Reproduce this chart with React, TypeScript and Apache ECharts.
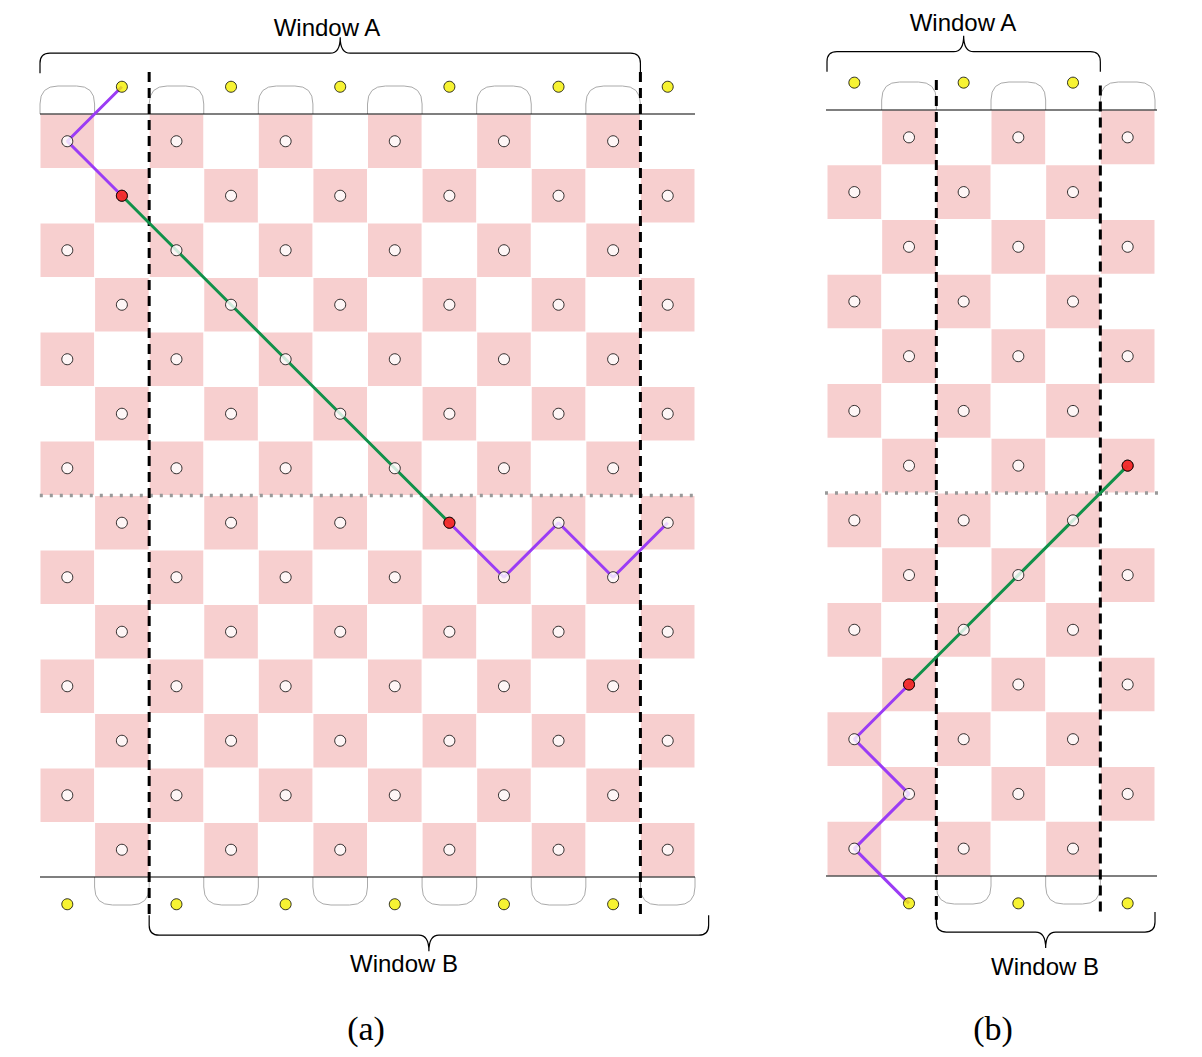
import { useEffect, useRef } from 'react';
import * as echarts from 'echarts';

// panel layout in cell units
const ROWS = 14;
const colsA = 12;
const colsB = 6;

// path through the grid (col, row) in cell units; centres are at +0.5
const purpleA1 = [[1.5, -0.5], [0.5, 0.5], [1.5, 1.5]];
const greenA = [[1.5, 1.5], [2.5, 2.5], [3.5, 3.5], [4.5, 4.5], [5.5, 5.5], [6.5, 6.5], [7.5, 7.5]];
const purpleA2 = [[7.5, 7.5], [8.5, 8.5], [9.5, 7.5], [10.5, 8.5], [11.5, 7.5]];
const redA = [[1.5, 1.5], [7.5, 7.5]];

const purpleB = [[1.5, 14.5], [0.5, 13.5], [1.5, 12.5], [0.5, 11.5], [1.5, 10.5]];
const greenB = [[1.5, 10.5], [2.5, 9.5], [3.5, 8.5], [4.5, 7.5], [5.5, 6.5]];
const redB = [[1.5, 10.5], [5.5, 6.5]];

// dashed window borders (x in cell units)
const dashA = [2, 11];
const dashB = [2, 5];

// braces: [x0, x1, yEnd, direction]
const bracesA = [[0, 11, -0.75, -1], [2, 12.25, 14.7, 1]];
const bracesB = [[0, 5, -0.7, -1], [2, 6, 14.66, 1]];

function cells(cols: number, parity: number) {
  const out: number[][] = [];
  for (let r = 0; r < ROWS; r++)
    for (let c = 0; c < cols; c++) if ((r + c) % 2 === parity) out.push([c, r]);
  return out;
}

const cellStyle = (api: any, params: any) => {
  const p0 = api.coord([api.value(0), api.value(1)]);
  const p1 = api.coord([api.value(0) + 1, api.value(1) + 1]);
  return {
    type: 'rect',
    shape: { x: p0[0] + 0.5, y: p0[1] + 0.5, width: p1[0] - p0[0] - 1, height: p1[1] - p0[1] - 1 },
    style: { fill: '#f7cfcf' },
  };
};

const arcItem = (_: any, api: any) => {
  const c = api.value(0);
  const top = api.value(1) === 0;
  const p0 = api.coord([c, top ? 0 : ROWS]);
  const p1 = api.coord([c + 1, top ? 0 : ROWS]);
  const x0 = p0[0], x1 = p1[0], yb = p0[1];
  const s = top ? -1 : 1, h = 28, r = 18;
  const d = `M${x0},${yb} L${x0},${yb + s * (h - r)} Q${x0},${yb + s * h} ${x0 + r},${yb + s * h} L${x1 - r},${yb + s * h} Q${x1},${yb + s * h} ${x1},${yb + s * (h - r)} L${x1},${yb}`;
  return { type: 'path', shape: { pathData: d }, style: { fill: 'none', stroke: '#aaaaaa', lineWidth: 1 } };
};

const braceItem = (_: any, api: any) => {
  const a = api.coord([api.value(0), api.value(2)]);
  const b = api.coord([api.value(1), api.value(2)]);
  const s = api.value(3);
  const x0 = a[0], x1 = b[0], ye = a[1], xm = (x0 + x1) / 2;
  const h = 20, t = 16, r = 10;
  const yf = ye + s * h;
  const d = `M${x0},${ye} L${x0},${yf - s * r} Q${x0},${yf} ${x0 + r},${yf} L${xm - r},${yf} Q${xm},${yf} ${xm},${yf + s * t} Q${xm},${yf} ${xm + r},${yf} L${x1 - r},${yf} Q${x1},${yf} ${x1},${yf - s * r} L${x1},${ye}`;
  return { type: 'path', shape: { pathData: d }, style: { fill: 'none', stroke: '#000', lineWidth: 1.2 } };
};

function panelSeries(idx: number, cols: number, parity: number, topArcs: number[], botArcs: number[],
  topYellow: number[], botYellow: number[], dash: number[], dashY: number[][], lineX: number[], dotX: number[],
  purples: number[][][], green: number[][], red: number[][], braces: number[][]) {
  const ax = { xAxisIndex: idx, yAxisIndex: idx };
  const line = (data: number[][], color: string, width: number, type: any = 'solid', z = 2) => ({
    type: 'line', ...ax, data, symbol: 'none', clip: false, silent: true, z,
    lineStyle: { color, width, type },
  });
  const pts = cells(cols, parity).map(([c, r]) => [c + 0.5, r + 0.5]);
  return [
    { type: 'custom', ...ax, data: cells(cols, parity), renderItem: (p: any, api: any) => cellStyle(api, p), clip: false, z: 1 },
    { type: 'custom', ...ax, data: [...topArcs.map(c => [c, 0]), ...botArcs.map(c => [c, 1])], renderItem: arcItem, clip: false, z: 1 },
    { type: 'custom', ...ax, data: braces, renderItem: braceItem, clip: false, z: 1 },
    line([[lineX[0], 0], [lineX[1], 0]], '#000', 1.2),
    line([[lineX[0], ROWS], [lineX[1], ROWS]], '#000', 1.2),
    line([[dotX[0], 7], [dotX[1], 7]], '#999', 3.5, [3, 7]),
    ...dash.map((x, i) => line([[x, dashY[i][0]], [x, dashY[i][1]]], '#000', 3, [10, 6], 3)),
    ...purples.map(p => line(p, '#9b3cf5', 3, 'solid', 4)),
    line(green, '#11914a', 3, 'solid', 4),
    { type: 'scatter', ...ax, data: pts, symbolSize: 11, clip: false, z: 5, itemStyle: { color: '#fff', borderColor: '#000', borderWidth: 1 } },
    { type: 'scatter', ...ax, data: [...topYellow.map(c => [c + 0.5, -0.5]), ...botYellow.map(c => [c + 0.5, ROWS + 0.5])], symbolSize: 11, clip: false, z: 5, itemStyle: { color: '#f5f000', borderColor: '#000', borderWidth: 1 } },
    { type: 'scatter', ...ax, data: red, symbolSize: 11, clip: false, z: 6, itemStyle: { color: '#f00000', borderColor: '#000', borderWidth: 1 } },
  ];
}

export default function App() {
  const ref = useRef<HTMLDivElement>(null);
  useEffect(() => {
    if (!ref.current) return;
    document.body.style.margin = '0';
    const chart = echarts.init(ref.current, undefined, { renderer: 'svg' });
    const axisX = (max: number, i: number) => ({ type: 'value', gridIndex: i, min: 0, max, show: false });
    const axisY = (i: number) => ({ type: 'value', gridIndex: i, min: 0, max: ROWS, inverse: true, show: false });
    const text = (t: string, x: number, y: number, size: number, font: string) => ({
      type: 'text', x, y, style: { text: t, fontSize: size, fontFamily: font, fill: '#000', textAlign: 'center', textVerticalAlign: 'middle' },
    });
    chart.setOption({
      animation: false,
      backgroundColor: '#fff',
      grid: [
        { left: 40, top: 114, width: 655, height: 763 },
        { left: 827, top: 110, width: 328, height: 766 },
      ],
      xAxis: [axisX(colsA, 0), axisX(colsB, 1)],
      yAxis: [axisY(0), axisY(1)],
      series: [
        ...panelSeries(0, colsA, 0, [0, 2, 4, 6, 8, 10], [1, 3, 5, 7, 9, 11], [1, 3, 5, 7, 9, 11], [0, 2, 4, 6, 8, 10],
          dashA, [[-0.77, 14.75], [-0.77, 14.75]], [0, 12], [-0.37, 12.3], [purpleA1, purpleA2], greenA, redA, bracesA),
        ...panelSeries(1, colsB, 1, [1, 3, 5], [2, 4], [0, 2, 4], [1, 3, 5],
          dashB, [[-0.55, 14.8], [-0.45, 14.7]], [-0.22, 6.24], [-0.22, 6.3], [purpleB], greenB, redB, bracesB),
      ],
      graphic: [
        text('Window A', 327, 27, 24, 'Liberation Sans, Arial, sans-serif'),
        text('Window B', 404, 963, 24, 'Liberation Sans, Arial, sans-serif'),
        text('Window A', 963, 22, 24, 'Liberation Sans, Arial, sans-serif'),
        text('Window B', 1045, 966, 24, 'Liberation Sans, Arial, sans-serif'),
        text('(a)', 366, 1028, 34, 'Liberation Serif, Times New Roman, serif'),
        text('(b)', 993, 1028, 34, 'Liberation Serif, Times New Roman, serif'),
      ],
    });
    return () => chart.dispose();
  }, []);
  return <div ref={ref} style={{ width: 1202, height: 1057 }} />;
}
